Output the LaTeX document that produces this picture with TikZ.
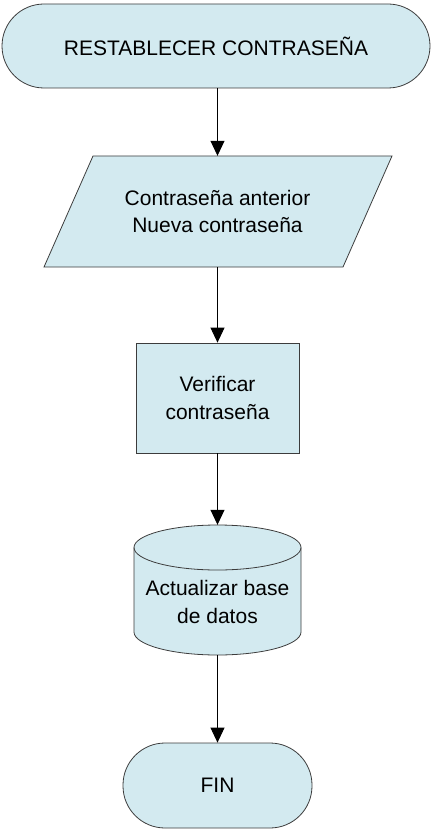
\documentclass[tikz,border=0pt]{standalone}
\usepackage{fontspec}
\setmainfont{Liberation Sans}
\usetikzlibrary{arrows.meta}
\definecolor{fillblue}{RGB}{211,234,240}
\definecolor{edgegray}{RGB}{60,60,60}
\begin{document}
\begin{tikzpicture}[x=1pt,y=-1pt,
  shapeline/.style={draw=edgegray, fill=fillblue, line width=0.8pt},
  txt/.style={font=\fontsize{21}{27.5}\selectfont, align=center, inner sep=0pt},
  term/.style={shapeline, txt, rounded corners=42pt},
  proc/.style={shapeline, txt},
  arr/.style={draw=black, line width=0.8pt, -{Triangle[length=15pt,width=14pt]}}]
\useasboundingbox (0,0) rectangle (432,829);

% start
\node[term, minimum width=428pt, minimum height=84pt] (start) at (216,46) {RESTABLECER CONTRASEÑA};

% input parallelogram
\path[shapeline] (93,156) -- (392,156) -- (343,267) -- (44,267) -- cycle;
\node[txt, minimum width=250pt, minimum height=111pt] (inp) at (217.5,211.5) {Contraseña anterior\\Nueva contraseña};

% process
\node[proc, minimum width=163pt, minimum height=110pt] (ver) at (217.5,398) {Verificar\\contraseña};

% database cylinder
\path[shapeline] (134,547.5) -- (134,632)
  arc[start angle=180, end angle=360, x radius=83.5pt, y radius=23pt]
  -- (301,547.5)
  arc[start angle=0, end angle=180, x radius=83.5pt, y radius=22.5pt] -- cycle;
\draw[draw=edgegray, line width=0.8pt] (134,547.5)
  arc[start angle=180, end angle=360, x radius=83.5pt, y radius=22.5pt];
\node[inner sep=0pt, minimum width=167pt, minimum height=130pt] (db) at (217.5,590) {};
\node[txt] (dbtext) at (217.5,602) {Actualizar base\\de datos};

% end
\node[term, minimum width=189pt, minimum height=85pt] (fin) at (217.5,785.5) {FIN};

% connectors
\draw[arr] (start.south -| inp.north) -- (inp.north);
\draw[arr] (inp.south) -- (ver.north);
\draw[arr] (ver.south) -- (db.north);
\draw[arr] (db.south) -- (fin.north);
\end{tikzpicture}
\end{document}
